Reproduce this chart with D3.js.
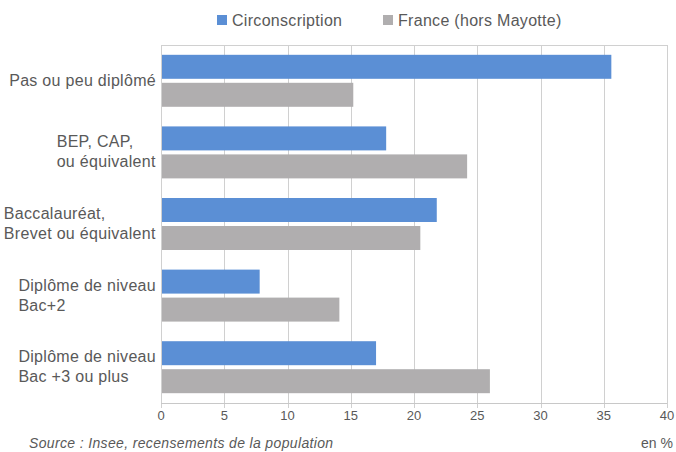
<!DOCTYPE html>
<html>
<head>
<meta charset="utf-8">
<script src="https://cdn.jsdelivr.net/npm/d3@7"></script>
<style>
  body { margin:0; background:#fff; }
  text { font-family:"Liberation Sans", Arial, sans-serif; fill:#595959; }
</style>
</head>
<body>
<div id="canvas"></div>
<script>
// data
var categories = [
  ['Pas ou peu diplômé'],
  ['BEP, CAP,', 'ou équivalent'],
  ['Baccalauréat,', 'Brevet ou équivalent'],
  ['Diplôme de niveau', 'Bac+2'],
  ['Diplôme de niveau', 'Bac +3 ou plus']
];
var series = ['Circonscription', 'France (hors Mayotte)'];
var circValues = [35.6, 17.8, 21.8, 7.8, 17.0];
var franceValues = [15.2, 24.2, 20.5, 14.1, 26.0];
var ticks = [0, 5, 10, 15, 20, 25, 30, 35, 40];
var colors = ['#5b8fd5', '#b0aeaf'];

var W = 676, H = 452;
var m = {t:45, r:9, b:49, l:161};
var w = W - m.l - m.r,
    h = H - m.t - m.b;

var svg = d3.select('#canvas').append('svg')
    .attr('width', W).attr('height', H);
var plot = svg.append('g')
    .attr('transform', 'translate(' + m.l + ',' + m.t + ')');

var rows = categories.map(function(c, i){
  return {label:c, vals:[circValues[i], franceValues[i]]};
});

var scaleX = d3.scaleLinear().domain([0, 40]).range([0, w]);
var scaleY = d3.scaleBand().domain(d3.range(rows.length)).range([0, h])
    .paddingInner(0.274).paddingOuter(0.137);
var scaleS = d3.scaleBand().domain([0, 1]).range([0, scaleY.bandwidth()])
    .paddingInner(0.143);

// grid
plot.selectAll('.grid').data(ticks).enter().append('line')
    .attr('x1', function(d){ return Math.round(scaleX(d)) + 0.5; })
    .attr('x2', function(d){ return Math.round(scaleX(d)) + 0.5; })
    .attr('y1', 0).attr('y2', h + 5)
    .attr('stroke', '#d0d0d0');
plot.append('line').attr('x1', 0).attr('x2', w).attr('y1', 0.5).attr('y2', 0.5)
    .attr('stroke', '#d0d0d0');
plot.append('line').attr('x1', 0).attr('x2', w).attr('y1', h + 0.5).attr('y2', h + 0.5)
    .attr('stroke', '#c8c8c8');

// bars
var groups = plot.selectAll('.cat').data(rows).enter().append('g')
    .attr('transform', function(d, i){ return 'translate(0,' + scaleY(i) + ')'; });
groups.selectAll('rect').data(function(d){ return d.vals; }).enter().append('rect')
    .attr('x', 1)
    .attr('y', function(d, j){ return scaleS(j); })
    .attr('height', scaleS.bandwidth())
    .attr('width', function(d){ return scaleX(d) - 1; })
    .attr('fill', function(d, j){ return colors[j]; });

// x tick labels
plot.selectAll('.xt').data(ticks).enter().append('text')
    .attr('x', function(d){ return scaleX(d); })
    .attr('y', h + 17)
    .attr('text-anchor', 'middle')
    .attr('font-size', 13)
    .text(function(d){ return d; });

// category labels: left-aligned block ending at plot edge
groups.each(function(d){
  var g = d3.select(this);
  var cy = scaleY.bandwidth() / 2;
  var n = d.label.length;
  var t = g.append('text').attr('font-size', 16).attr('letter-spacing', 0.3);
  d.label.forEach(function(line, k){
    t.append('tspan').attr('x', 0)
      .attr('y', cy + (k - (n - 1) / 2) * 20 + 5)
      .text(line);
  });
  var bw = t.node().getBBox().width;
  t.attr('transform', 'translate(' + (-5 - bw) + ',0)');
});

// legend
var legX = [217, 383];
series.forEach(function(s, j){
  svg.append('rect').attr('x', legX[j]).attr('y', 15).attr('width', 10).attr('height', 10)
      .attr('fill', colors[j]);
  svg.append('text').attr('x', legX[j] + 15).attr('y', 26)
      .attr('font-size', 16).attr('letter-spacing', 0.3).text(s);
});

svg.append('text').attr('x', 29).attr('y', 448)
    .attr('font-size', 14).attr('font-style', 'italic').attr('letter-spacing', 0.35)
    .text('Source : Insee, recensements de la population');
svg.append('text').attr('x', 673).attr('y', 448).attr('text-anchor', 'end')
    .attr('font-size', 14).text('en %');
</script>
</body>
</html>
